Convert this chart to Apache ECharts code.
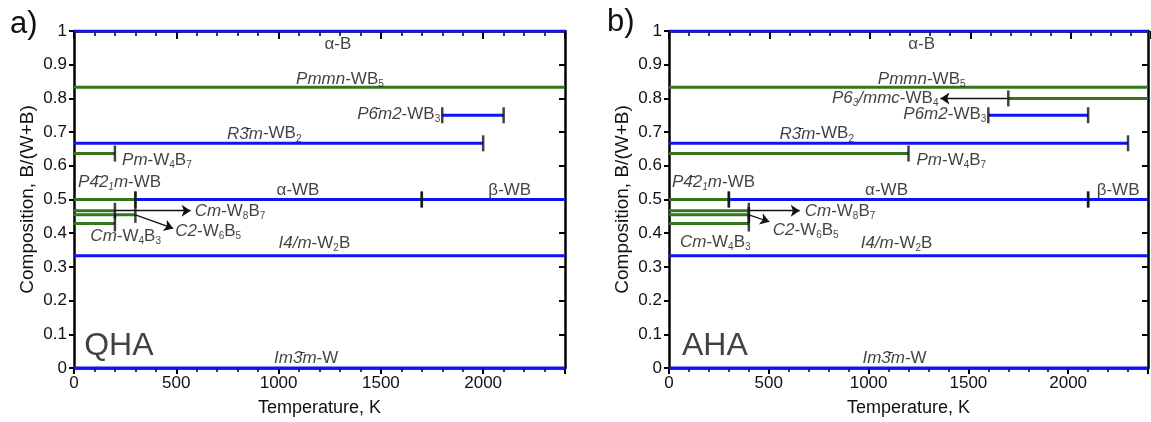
<!DOCTYPE html>
<html>
<head>
<meta charset="utf-8">
<script src="https://cdn.jsdelivr.net/npm/echarts@6/dist/echarts.min.js"></script>
<style>
html, body { margin: 0; padding: 0; background: #fff; }
#main { width: 1151px; height: 422px; }
</style>
</head>
<body>
<div id="main"></div>
<script>
// phase segments: [composition B/(W+B), T from, T to]
var qhaBlue = [[1, 0, 2400], [0.75, 1800, 2100], [0.6667, 0, 2000], [0.5, 300, 1700], [0.5, 1700, 2400], [0.3333, 0, 2400], [0, 0, 2400]];
var qhaGreen = [[0.8333, 0, 2400], [0.6364, 0, 200], [0.5, 0, 300], [0.4667, 0, 200], [0.4545, 0, 300], [0.4286, 0, 200]];
var ahaBlue = [[1, 0, 2400], [0.75, 1600, 2100], [0.6667, 0, 2300], [0.5, 300, 2100], [0.5, 2100, 2400], [0.3333, 0, 2400], [0, 0, 2400]];
var ahaGreen = [[0.8333, 0, 2400], [0.8, 1700, 2400], [0.6364, 0, 1200], [0.5, 0, 300], [0.4667, 0, 400], [0.4545, 0, 400], [0.4286, 0, 400]];

// arrows: [T from, x from, T to, x to]
var qhaArrows = [[200, 0.4667, 570, 0.4667], [300, 0.4545, 485, 0.414]];
var ahaArrows = [[1700, 0.8, 1360, 0.8], [400, 0.4667, 655, 0.4667], [400, 0.4545, 503, 0.434]];

// phase names: [text, T, x, anchor]  (l = starts here, r = ends here, c = centred)
var qhaLabels = [
    ['α-B', 1290, 0.96, 'c'],
    ['{i|Pmmn}-WB{s|5}', 1300, 0.856, 'c'],
    ['{i|P6\u0304m2}-WB{s|3}', 1790, 0.752, 'r'],
    ['{i|R3\u0304m}-WB{s|2}', 930, 0.695, 'c'],
    ['{i|Pm}-W{s|4}B{s|7}', 235, 0.616, 'l'],
    ['{i|P4\u03042}{is|1}{i|m}-WB', 20, 0.55, 'l'],
    ['α-WB', 1095, 0.527, 'c'],
    ['β-WB', 2130, 0.527, 'c'],
    ['{i|Cm}-W{s|8}B{s|7}', 590, 0.466, 'l'],
    ['{i|C2}-W{s|6}B{s|5}', 495, 0.405, 'l'],
    ['{i|Cm}-W{s|4}B{s|3}', 80, 0.39, 'l'],
    ['{i|I4/m}-W{s|2}B', 1175, 0.37, 'c'],
    ['{i|Im3\u0304m}-W', 1135, 0.03, 'c'],
    ['{big|QHA}', 50, 0.065, 'l']
];
var ahaLabels = [
    ['α-B', 1266, 0.96, 'c'],
    ['{i|Pmmn}-WB{s|5}', 1266, 0.856, 'c'],
    ['{i|P6}{is|3}{i|/mmc}-WB{s|4}', 1350, 0.8, 'r'],
    ['{i|P6m2}-WB{s|3}', 1590, 0.752, 'r'],
    ['{i|R3\u0304m}-WB{s|2}', 740, 0.695, 'c'],
    ['{i|Pm}-W{s|4}B{s|7}', 1240, 0.616, 'l'],
    ['{i|P4\u03042}{is|1}{i|m}-WB', 15, 0.55, 'l'],
    ['α-WB', 1090, 0.527, 'c'],
    ['β-WB', 2250, 0.527, 'c'],
    ['{i|Cm}-W{s|8}B{s|7}', 680, 0.466, 'l'],
    ['{i|C2}-W{s|6}B{s|5}', 520, 0.41, 'l'],
    ['{i|Cm}-W{s|4}B{s|3}', 55, 0.372, 'l'],
    ['{i|I4/m}-W{s|2}B', 1140, 0.37, 'c'],
    ['{i|Im3\u0304m}-W', 1130, 0.03, 'c'],
    ['{big|AHA}', 65, 0.065, 'l']
];

var TMAX = 2400;
var BLUE = '#0f14f5';
var GREEN = '#33761c';
var FONT = '"Liberation Sans", Arial, sans-serif';

var rich = {
    i: { fontStyle: 'italic', fontSize: 17, lineHeight: 20, fontFamily: FONT, color: '#111' },
    s: { fontSize: 10, lineHeight: 10, verticalAlign: 'bottom', fontFamily: FONT, color: '#111' },
    is: { fontSize: 10, lineHeight: 10, verticalAlign: 'bottom', fontStyle: 'italic', fontFamily: FONT, color: '#111' },
    big: { fontSize: 32, lineHeight: 34, fontFamily: FONT, color: '#111' }
};

function panelSeries(ax, blue, green, arrows, labels) {
    var out = [];
    var caps = [];
    function seg(list, color) {
        list.forEach(function (d) {
            out.push({
                type: 'line', xAxisIndex: ax, yAxisIndex: ax,
                data: [[d[1], d[0]], [d[2], d[0]]],
                symbol: 'none', silent: true, z: 3,
                lineStyle: { color: color, width: 3 }
            });
            [d[1], d[2]].forEach(function (t) {
                if (t > 0 && t < TMAX) caps.push([t, d[0]]);
            });
        });
    }
    seg(blue, BLUE);
    seg(green, GREEN);
    out.push({
        type: 'scatter', xAxisIndex: ax, yAxisIndex: ax, z: 4,
        symbol: 'rect', symbolSize: [2.5, 16],
        itemStyle: { color: '#111' },
        data: caps
    });
    out.push({
        type: 'lines', coordinateSystem: 'cartesian2d', xAxisIndex: ax, yAxisIndex: ax, z: 4,
        symbol: ['none', 'arrow'], symbolSize: 9,
        lineStyle: { color: '#111', width: 1.3, opacity: 1 },
        data: arrows.map(function (a) { return { coords: [[a[0], a[1]], [a[2], a[3]]] }; })
    });
    out.push({
        type: 'scatter', xAxisIndex: ax, yAxisIndex: ax, z: 5,
        symbolSize: 0, silent: true,
        data: labels.map(function (l) {
            return {
                value: [l[1], l[2]],
                label: {
                    show: true,
                    formatter: l[0],
                    position: l[3] === 'l' ? 'right' : (l[3] === 'r' ? 'left' : 'inside'),
                    distance: 0,
                    fontSize: 17, lineHeight: 20, fontFamily: FONT, color: '#111',
                    rich: rich
                }
            };
        })
    });
    return out;
}

function xAxes(grid) {
    var common = {
        gridIndex: grid, type: 'value', min: 0, max: TMAX, interval: 500,
        splitLine: { show: false },
        axisLine: { show: true, onZero: false, lineStyle: { color: '#000', width: 2.5 } }
    };
    return [
        Object.assign({}, common, {
            position: 'bottom',
            name: 'Temperature, K', nameLocation: 'middle', nameGap: 31,
            nameTextStyle: { fontSize: 18, fontFamily: FONT, color: '#111' },
            axisTick: { show: true, inside: false, length: 6, lineStyle: { width: 2, color: '#000' } },
            minorTick: { show: true, splitNumber: 5, length: 4, lineStyle: { width: 1.5, color: '#000' } },
            axisLabel: {
                fontSize: 17, fontFamily: FONT, color: '#111', margin: 7,
                formatter: function (v) { return v % 500 === 0 ? String(v) : ''; }
            }
        }),
        Object.assign({}, common, {
            position: 'top',
            axisTick: { show: false },
            axisLabel: { show: false }
        })
    ];
}

// top-edge ticks: bottom axis of a thin strip grid whose lower edge is the frame top
function topTickAxis(grid) {
    return {
        gridIndex: grid, type: 'value', min: 0, max: TMAX, interval: 500, position: 'bottom',
        splitLine: { show: false },
        axisLine: { show: false, onZero: false },
        axisLabel: { show: false },
        axisTick: { show: true, inside: false, length: 8, lineStyle: { width: 2, color: '#000' } },
        minorTick: { show: true, splitNumber: 5, length: 5, lineStyle: { width: 1.5, color: '#000' } }
    };
}

function yAxes(grid) {
    var common = {
        gridIndex: grid, type: 'value', min: 0, max: 1, interval: 0.1,
        splitLine: { show: false },
        axisLine: { show: true, onZero: false, lineStyle: { color: '#000', width: 2.5 } }
    };
    return [
        Object.assign({}, common, {
            position: 'left',
            name: 'Composition, B/(W+B)', nameLocation: 'middle', nameGap: 37,
            nameTextStyle: { fontSize: 19, fontFamily: FONT, color: '#111' },
            axisTick: { show: true, inside: false, length: 5, lineStyle: { width: 2, color: '#000' } },
            axisLabel: { fontSize: 17, fontFamily: FONT, color: '#111', margin: 7 }
        }),
        Object.assign({}, common, {
            position: 'right',
            axisTick: { show: true, inside: true, length: 6, lineStyle: { width: 2, color: '#000' } },
            axisLabel: { show: false }
        })
    ];
}

var chart = echarts.init(document.getElementById('main'), null, { renderer: 'canvas' });

var option = {
    animation: false,
    backgroundColor: '#fff',
    grid: [
        { left: 74, top: 31, width: 491, height: 341 },
        { left: 669, top: 31, width: 491, height: 341 },
        { left: 74, top: 20, width: 491, height: 11 },
        { left: 669, top: 20, width: 491, height: 11 }
    ],
    xAxis: xAxes(0).concat(xAxes(1), [topTickAxis(2), topTickAxis(3)]),
    yAxis: yAxes(0).concat(yAxes(1), [
        { gridIndex: 2, type: 'value', min: 0, max: 1, show: false },
        { gridIndex: 3, type: 'value', min: 0, max: 1, show: false }
    ]),
    graphic: [
        { type: 'text', left: 10, top: 9, style: { text: 'a)', fontSize: 31, fontFamily: FONT, fill: '#111' } },
        { type: 'text', left: 607, top: 7, style: { text: 'b)', fontSize: 31, fontFamily: FONT, fill: '#111' } }
    ],
    series: panelSeries(0, qhaBlue, qhaGreen, qhaArrows, qhaLabels)
        .concat(panelSeries(2, ahaBlue, ahaGreen, ahaArrows, ahaLabels))
};

chart.setOption(option);
</script>
</body>
</html>
